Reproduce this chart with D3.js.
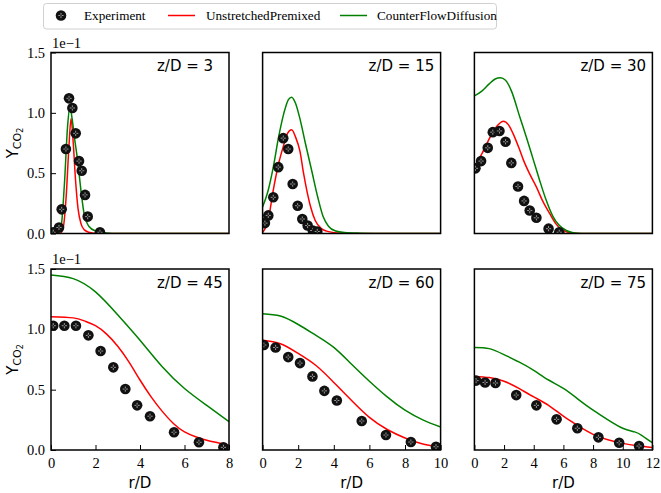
<!DOCTYPE html>
<html>
<head>
<meta charset="utf-8">
<script src="https://cdn.jsdelivr.net/npm/d3@7/dist/d3.min.js"></script>
<style>
  html, body { margin: 0; padding: 0; background: #fff; }
  svg { display: block; }
</style>
</head>
<body>
<svg id="chart" width="661" height="493"></svg>
<script>
// ---------------- DATA (Y_CO2 values in units of 1e-1) ----------------
const stations = ["z/D = 3", "z/D = 15", "z/D = 30", "z/D = 45", "z/D = 60", "z/D = 75"];
const xMaxByCol = [8, 10, 12];
const xTicksByCol = [[0, 2, 4, 6, 8], [0, 2, 4, 6, 8, 10], [0, 2, 4, 6, 8, 10, 12]];
const yTicks = [0.0, 0.5, 1.0, 1.5];
const legendLabels = ["Experiment", "UnstretchedPremixed", "CounterFlowDiffusion"];

// z/D = 3
const exp3_r = [0.1, 0.36, 0.48, 0.67, 0.81, 0.96, 1.11, 1.26, 1.38, 1.53, 1.65, 2.2];
const exp3_y = [0.01, 0.05, 0.20, 0.70, 1.12, 1.04, 0.83, 0.60, 0.52, 0.32, 0.14, 0.01];
const red3_r = [0, 0.4, 0.55, 0.68, 0.8, 0.9, 1.0, 1.1, 1.22, 1.35, 1.5, 1.7, 2.0, 3, 8];
const red3_y = [0, 0, 0.05, 0.3, 0.7, 0.95, 0.75, 0.45, 0.2, 0.08, 0.03, 0.01, 0, 0, 0];
const grn3_r = [0, 0.3, 0.45, 0.6, 0.75, 0.85, 0.95, 1.05, 1.2, 1.35, 1.5, 1.7, 2.0, 2.5, 3, 8];
const grn3_y = [0, 0, 0.05, 0.4, 0.9, 1.05, 0.95, 0.8, 0.6, 0.35, 0.15, 0.06, 0.02, 0.005, 0, 0];

// z/D = 15
const exp15_r = [0.13, 0.32, 0.6, 0.88, 1.16, 1.44, 1.69, 1.97, 2.23, 2.53, 2.82, 3.07];
const exp15_y = [0.086, 0.15, 0.30, 0.55, 0.79, 0.70, 0.41, 0.23, 0.12, 0.066, 0.025, 0.017];
const red15_r = [0, 0.3, 0.6, 0.9, 1.16, 1.4, 1.63, 1.85, 2.1, 2.3, 2.48, 2.7, 2.95, 3.3, 3.6, 4.2, 5, 10];
const red15_y = [0.01, 0.1, 0.36, 0.58, 0.72, 0.83, 0.86, 0.8, 0.68, 0.5, 0.36, 0.22, 0.11, 0.04, 0.02, 0.005, 0, 0];
const grn15_r = [0, 0.3, 0.6, 0.9, 1.2, 1.45, 1.63, 1.85, 2.1, 2.4, 2.76, 3.1, 3.4, 3.7, 4.1, 4.6, 5.5, 7, 10];
const grn15_y = [0.22, 0.35, 0.55, 0.8, 1.0, 1.11, 1.13, 1.08, 0.95, 0.75, 0.52, 0.3, 0.14, 0.06, 0.02, 0.008, 0.003, 0, 0];

// z/D = 30
const exp30_r = [0.07, 0.45, 0.9, 1.24, 1.69, 2.1, 2.49, 2.94, 3.35, 3.73, 4.18, 5.0, 5.72];
const exp30_y = [0.54, 0.60, 0.71, 0.84, 0.85, 0.76, 0.585, 0.39, 0.27, 0.19, 0.13, 0.04, 0.01];
const red30_r = [0, 0.5, 0.9, 1.4, 1.95, 2.3, 2.6, 3.0, 3.3, 3.7, 4.2, 4.6, 5.1, 5.5, 5.8, 6.2, 6.6, 7, 12];
const red30_y = [0.56, 0.66, 0.76, 0.87, 0.93, 0.9, 0.83, 0.71, 0.61, 0.5, 0.38, 0.27, 0.16, 0.08, 0.04, 0.015, 0.004, 0, 0];
const grn30_r = [0, 0.5, 1.0, 1.4, 1.75, 2.1, 2.5, 3.05, 3.5, 4.0, 4.4, 4.8, 5.3, 5.7, 6.2, 6.6, 7, 7.5, 12];
const grn30_y = [1.14, 1.18, 1.24, 1.28, 1.29, 1.27, 1.18, 0.97, 0.8, 0.6, 0.44, 0.29, 0.14, 0.07, 0.025, 0.008, 0.002, 0, 0];

// z/D = 45
const exp45_r = [0.1, 0.6, 1.12, 1.68, 2.23, 2.8, 3.34, 3.87, 4.45, 5.53, 6.65, 7.75];
const exp45_y = [1.03, 1.03, 1.03, 0.95, 0.82, 0.685, 0.505, 0.37, 0.28, 0.147, 0.064, 0.022];
const red45_r = [0, 1, 1.5, 2, 2.5, 3, 3.5, 4, 4.5, 5, 5.5, 6, 6.5, 7, 7.5, 8];
const red45_y = [1.105, 1.095, 1.07, 1.03, 0.96, 0.86, 0.73, 0.58, 0.44, 0.32, 0.22, 0.15, 0.11, 0.08, 0.06, 0.04];
const grn45_r = [0, 1, 2, 3, 4, 5, 6, 7, 8];
const grn45_y = [1.45, 1.42, 1.31, 1.12, 0.91, 0.69, 0.51, 0.37, 0.235];

// z/D = 60
const exp60_r = [0.07, 0.73, 1.44, 2.1, 2.8, 3.47, 4.17, 5.57, 6.93, 8.33, 9.74];
const exp60_y = [0.87, 0.85, 0.77, 0.72, 0.61, 0.49, 0.41, 0.24, 0.124, 0.066, 0.027];
const red60_r = [0, 1, 2, 3, 4, 5, 6, 7, 8, 9, 10];
const red60_y = [0.91, 0.88, 0.80, 0.70, 0.56, 0.41, 0.27, 0.17, 0.10, 0.05, 0.025];
const grn60_r = [0, 1, 2, 3, 4, 5, 6, 7, 8, 9, 10];
const grn60_y = [1.13, 1.11, 1.04, 0.95, 0.85, 0.71, 0.57, 0.44, 0.33, 0.25, 0.19];

// z/D = 75
const exp75_r = [0.11, 0.72, 1.42, 2.82, 4.18, 5.54, 6.94, 8.36, 9.76, 11.1];
const exp75_y = [0.575, 0.56, 0.555, 0.455, 0.37, 0.254, 0.18, 0.105, 0.06, 0.033];
const red75_r = [0, 1, 2, 3, 4, 5, 6, 7, 8, 9, 10, 11, 12];
const red75_y = [0.61, 0.60, 0.57, 0.51, 0.44, 0.37, 0.28, 0.20, 0.13, 0.085, 0.055, 0.035, 0.02];
const grn75_r = [0, 1, 2, 3, 4, 5, 6, 7, 8, 9, 10, 10.8, 11.3, 12];
const grn75_y = [0.85, 0.84, 0.79, 0.73, 0.66, 0.58, 0.51, 0.42, 0.33, 0.25, 0.18, 0.15, 0.12, 0.06];

const panelData = [
  {exp: [exp3_r, exp3_y], red: [red3_r, red3_y], grn: [grn3_r, grn3_y]},
  {exp: [exp15_r, exp15_y], red: [red15_r, red15_y], grn: [grn15_r, grn15_y]},
  {exp: [exp30_r, exp30_y], red: [red30_r, red30_y], grn: [grn30_r, grn30_y]},
  {exp: [exp45_r, exp45_y], red: [red45_r, red45_y], grn: [grn45_r, grn45_y]},
  {exp: [exp60_r, exp60_y], red: [red60_r, red60_y], grn: [grn60_r, grn60_y]},
  {exp: [exp75_r, exp75_y], red: [red75_r, red75_y], grn: [grn75_r, grn75_y]}
];

// ---------------- LAYOUT ----------------
const svg = d3.select("#chart");
const pw = 178, ph = 181;
const colX = [51, 262.6, 474.4];
const rowY = [52.5, 269];
const RED = "#ff0000", GREEN = "#008000";
const serif = "'Liberation Serif','Times New Roman',serif";
const sans = "'DejaVu Sans',sans-serif";

function zip(a, b) { return a.map((v, i) => [v, b[i]]); }

function drawMarker(g, x, y) {
  const m = g.append("g").attr("transform", `translate(${x},${y})`);
  m.append("circle").attr("r", 5.3).attr("fill", "#111");
  m.append("path")
    .attr("d", "M-2.6,0H-0.7M0.7,0H2.6M0,-2.6V-0.7M0,0.7V2.6")
    .attr("stroke", "#bdbdbd").attr("stroke-width", 0.8);
}

panelData.forEach((pd, i) => {
  const col = i % 3, row = Math.floor(i / 3);
  const x0 = colX[col], y0 = rowY[row];
  const x = d3.scaleLinear().domain([0, xMaxByCol[col]]).range([0, pw]);
  const y = d3.scaleLinear().domain([0, 1.5]).range([ph, 0]);
  const g = svg.append("g").attr("transform", `translate(${x0},${y0})`);

  const clipId = "clip" + i;
  g.append("clipPath").attr("id", clipId).append("rect")
    .attr("x", 0).attr("y", 0).attr("width", pw).attr("height", ph);

  const plot = g.append("g").attr("clip-path", `url(#${clipId})`);
  const line = d3.line().x(d => x(d[0])).y(d => y(d[1]))
    .curve(row === 1 ? d3.curveNatural : d3.curveMonotoneX);

  // Lines: red, then green
  plot.append("path").datum(zip(pd.red[0], pd.red[1]))
    .attr("d", line).attr("fill", "none").attr("stroke", RED).attr("stroke-width", 1.5);
  plot.append("path").datum(zip(pd.grn[0], pd.grn[1]))
    .attr("d", line).attr("fill", "none").attr("stroke", GREEN).attr("stroke-width", 1.5);
  // Experimental markers
  zip(pd.exp[0], pd.exp[1]).forEach(d => drawMarker(plot, x(d[0]), y(d[1])));

  // Axes ticks (inward)
  if (row === 1) {
    const xa = d3.axisBottom(x).tickValues(xTicksByCol[col]).tickFormat(d3.format("d"))
      .tickSizeInner(-5).tickSizeOuter(0).tickPadding(8);
    const gx = g.append("g").attr("transform", `translate(0,${ph})`).call(xa);
    gx.select(".domain").remove();
    gx.selectAll("line").attr("stroke", "#000").attr("stroke-width", 1);
    gx.selectAll("text").attr("font-family", serif).attr("font-size", 14.5).attr("fill", "#000");
  }
  if (col === 0) {
    const ya = d3.axisLeft(y).tickValues(yTicks).tickFormat(d3.format(".1f"))
      .tickSizeInner(-5).tickSizeOuter(0).tickPadding(6);
    const gy = g.append("g").call(ya);
    gy.select(".domain").remove();
    gy.selectAll("line").attr("stroke", "#000").attr("stroke-width", 1);
    gy.selectAll("text").attr("font-family", serif).attr("font-size", 14.5).attr("fill", "#000");
    // offset text
    g.append("text").attr("x", 1).attr("y", -5)
      .attr("font-family", serif).attr("font-size", 14.5).text("1e\u22121");
    // y label
    const yl = svg.append("text")
      .attr("transform", `translate(18,${y0 + ph / 2}) rotate(-90)`)
      .attr("text-anchor", "middle").attr("font-family", sans).attr("font-size", 15);
    yl.append("tspan").text("Y");
    yl.append("tspan").attr("font-size", 11).attr("dy", 3).text("CO");
    yl.append("tspan").attr("font-size", 8).attr("dy", 2).text("2");
  }
  if (row === 1) {
    svg.append("text").attr("x", x0 + pw / 2).attr("y", y0 + ph + 38)
      .attr("text-anchor", "middle").attr("font-family", sans).attr("font-size", 15)
      .text("r/D");
  }

  // frame
  g.append("rect").attr("x", 0).attr("y", 0).attr("width", pw).attr("height", ph)
    .attr("fill", "none").attr("stroke", "#000").attr("stroke-width", 1.5);

  // station label
  g.append("text").attr("x", 106).attr("y", 18.5)
    .attr("font-family", sans).attr("font-size", 15).attr("fill", "#000")
    .text(stations[i]);
});

// ---------------- LEGEND ----------------
const lg = svg.append("g");
lg.append("rect").attr("x", 43.5).attr("y", 3.5).attr("width", 453).attr("height", 25.5)
  .attr("rx", 3).attr("fill", "#fff").attr("stroke", "#d0d0d0").attr("stroke-width", 1);
drawMarker(lg, 61, 15.5);
lg.append("text").attr("x", 84).attr("y", 20).attr("font-family", serif).attr("font-size", 13.2).text(legendLabels[0]);
lg.append("line").attr("x1", 168).attr("x2", 195).attr("y1", 15.5).attr("y2", 15.5).attr("stroke", RED).attr("stroke-width", 1.5);
lg.append("text").attr("x", 206).attr("y", 20).attr("font-family", serif).attr("font-size", 13.2).text(legendLabels[1]);
lg.append("line").attr("x1", 340).attr("x2", 367).attr("y1", 15.5).attr("y2", 15.5).attr("stroke", GREEN).attr("stroke-width", 1.5);
lg.append("text").attr("x", 377).attr("y", 20).attr("font-family", serif).attr("font-size", 13.2).text(legendLabels[2]);
</script>
</body>
</html>
